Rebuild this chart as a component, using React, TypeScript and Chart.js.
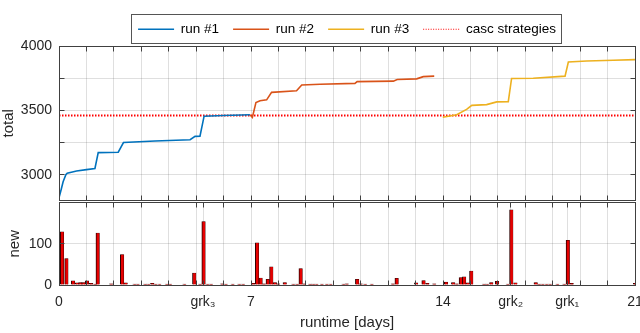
import React, { useEffect, useRef } from 'react';
import { Chart, registerables } from 'chart.js';

Chart.register(...registerables);

// ---------- data ----------
const run1Days = [0, 0.08, 0.15, 0.25, 0.3, 0.64, 1.0, 1.31, 1.43, 2.16, 2.35, 3.5, 4.78, 4.96, 5.14, 5.29, 6.0, 6.96];
const run1Totals = [2822, 2885, 2945, 3000, 3012, 3029, 3040, 3049, 3172, 3175, 3250, 3262, 3272, 3298, 3300, 3455, 3460, 3466];

const run2Days = [6.96, 7.05, 7.18, 7.33, 7.57, 7.75, 8.66, 8.85, 9.52, 10.79, 10.87, 12.19, 12.33, 13.04, 13.28, 13.68];
const run2Totals = [3466, 3445, 3560, 3575, 3582, 3640, 3653, 3697, 3703, 3710, 3723, 3727, 3740, 3745, 3762, 3766];

const run3Days = [13.99, 14.5, 14.86, 15.05, 15.59, 15.96, 16.38, 16.5, 17.29, 18.45, 18.57, 19.24, 20.21, 21.0];
const run3Totals = [3447, 3466, 3508, 3539, 3545, 3566, 3568, 3748, 3750, 3766, 3876, 3884, 3889, 3894];

const cascDays = [0, 21];
const cascTotals = [3460, 3460];

const newDays = [
  0.11, 0.27, 0.51, 0.66, 0.78, 0.89, 1.02, 1.17, 1.31, 1.41, 1.9, 2.3, 2.43, 2.75, 2.87, 3.14, 3.26, 3.4, 3.52, 3.66,
  3.93, 4.05, 4.57, 4.93, 5.14, 5.27, 5.41, 5.54, 5.95, 6.08, 6.33, 6.57, 6.71, 7.08, 7.22, 7.35, 7.47, 7.61, 7.74, 7.87,
  7.99, 8.23, 8.54, 8.68, 8.81, 8.94, 9.15, 9.27, 9.39, 9.58, 9.76, 9.9, 10.37, 10.49, 10.87, 11.0, 11.16, 11.4, 12.17, 12.31,
  13.02, 13.29, 13.43, 13.68, 14.11, 14.37, 14.5, 14.65, 14.77, 14.9, 15.03, 15.49, 15.61, 15.76, 15.97, 16.36, 16.49, 16.64, 17.38, 17.5,
  17.63, 17.77, 17.9, 18.17, 18.42, 18.55, 18.69, 21.0,
];
const newCounts = [
  129, 64, 10, 5, 6, 6, 10, 4, 2, 126, 3, 74, 5, 2, 2, 2, 2, 4, 2, 2,
  2, 2, 2, 29, 2, 154, 2, 2, 3, 2, 2, 2, 2, 4, 102, 17, 3, 14, 44, 6,
  3, 6, 2, 2, 40, 3, 2, 2, 2, 2, 2, 2, 2, 3, 14, 3, 2, 2, 3, 16,
  5, 11, 4, 3, 7, 6, 3, 18, 20, 5, 34, 2, 2, 6, 9, 2, 182, 5, 6, 2,
  2, 2, 2, 2, 2, 108, 4, 4,
];

// ---------- ticks ----------
const dayTicks = [0, 1, 2, 3, 4, 5, 6, 7, 8, 9, 10, 11, 12, 13, 14, 15, 16, 17, 18, 19, 20, 21];
const grkDays = [5.25, 16.47, 18.53];
const xLabelDays = [0, 5.25, 7, 14, 16.47, 18.53, 21];
const xLabelTexts = ['0', 'grk\u2083', '7', '14', 'grk\u2082', 'grk\u2081', '21'];
const totalTicks = [3000, 3250, 3500, 3750, 4000];
const totalLabelVals = [3000, 3500, 4000];
const newTicks = [0, 100, 200];
const newLabelVals = [0, 100];

const FONT = "'Liberation Sans', Arial, Helvetica, sans-serif";
const TXT = '#262626';
const GRID = 'rgba(38,38,38,0.15)';
const AXIS = '#404040';

const pts = (xs: number[], ys: number[]) => xs.map((x, i) => ({ x, y: ys[i] }));
const align = (p: number) => Math.round(p - 0.5) + 0.5;

const framePlugin = {
  id: 'frame',
  afterDraw(chart: any) {
    const { ctx, chartArea: a } = chart;
    const L = align(a.left), R = align(a.right), T = align(a.top), B = align(a.bottom);
    const len = 5;
    ctx.save();
    ctx.strokeStyle = AXIS;
    ctx.lineWidth = 1;
    ctx.beginPath();
    const xs = chart.scales.x;
    xs.ticks.forEach((t: any) => {
      const p = align(xs.getPixelForValue(t.value));
      ctx.moveTo(p, B); ctx.lineTo(p, B - len);
      ctx.moveTo(p, T); ctx.lineTo(p, T + len);
    });
    const ys = chart.scales.y;
    ys.ticks.forEach((t: any) => {
      const p = align(ys.getPixelForValue(t.value));
      ctx.moveTo(L, p); ctx.lineTo(L + len, p);
      ctx.moveTo(R, p); ctx.lineTo(R - len, p);
    });
    ctx.stroke();
    ctx.strokeRect(L, T, R - L, B - T);
    ctx.restore();
  },
};

const legendBoxPlugin = {
  id: 'legendBox',
  afterDraw(chart: any) {
    const lg = chart.legend;
    if (!lg || !lg.legendHitBoxes || !lg.legendHitBoxes.length) return;
    const hb = lg.legendHitBoxes;
    const left = Math.min(...hb.map((h: any) => h.left)) - 7;
    const right = Math.max(...hb.map((h: any) => h.left + h.width)) + 5;
    const cy = hb[0].top + hb[0].height / 2;
    const { ctx } = chart;
    ctx.save();
    ctx.strokeStyle = '#555555';
    ctx.lineWidth = 1;
    ctx.strokeRect(align(left), align(cy - 14.5), Math.round(right - left), 29);
    ctx.restore();
  },
};

export default function App() {
  const topRef = useRef<HTMLCanvasElement>(null);
  const botRef = useRef<HTMLCanvasElement>(null);

  useEffect(() => {
    document.body.style.margin = '0';
    Chart.defaults.font.family = FONT;
    Chart.defaults.color = TXT;

    const baseGen = (Chart.defaults as any).plugins.legend.labels.generateLabels;

    const top = new Chart(topRef.current as HTMLCanvasElement, {
      type: 'line',
      data: {
        datasets: [
          { label: 'run #1', data: pts(run1Days, run1Totals), borderColor: '#0072BD', backgroundColor: '#0072BD', borderWidth: 1.6, pointRadius: 0, tension: 0, fill: false },
          { label: 'run #2', data: pts(run2Days, run2Totals), borderColor: '#D95319', backgroundColor: '#D95319', borderWidth: 1.6, pointRadius: 0, tension: 0, fill: false },
          { label: 'run #3', data: pts(run3Days, run3Totals), borderColor: '#EDB120', backgroundColor: '#EDB120', borderWidth: 1.6, pointRadius: 0, tension: 0, fill: false },
          { label: 'casc strategies', data: pts(cascDays, cascTotals), borderColor: '#ff0000', backgroundColor: '#ff0000', borderWidth: 2, borderDash: [1.5, 1.5], pointRadius: 0, tension: 0, fill: false },
        ],
      },
      options: {
        animation: false,
        responsive: false,
        maintainAspectRatio: false,
        events: [],
        layout: { padding: { top: -5, left: 0, right: 0, bottom: 0 } },
        plugins: {
          legend: {
            position: 'top',
            fullSize: false,
            labels: {
              usePointStyle: true,
              pointStyle: 'line',
              pointStyleWidth: 36,
              padding: 14,
              color: '#000000',
              font: { size: 13.5, family: FONT },
              generateLabels: (chart: any) => {
                const items = baseGen(chart);
                items.forEach((it: any) => {
                  if (it.datasetIndex === 3) {
                    it.lineDash = [1, 1.5];
                    it.lineWidth = 1.2;
                  } else {
                    it.lineDash = [];
                    it.lineWidth = 1.3;
                  }
                });
                return items;
              },
            },
          },
          tooltip: { enabled: false },
        },
        scales: {
          x: {
            type: 'linear',
            min: 0,
            max: 21,
            afterBuildTicks: (s: any) => { s.ticks = dayTicks.map((v) => ({ value: v })); },
            ticks: { display: false },
            grid: { color: GRID, drawTicks: false },
            border: { display: false },
            afterFit: (s: any) => { s.height = 1.5; s.paddingLeft = 0; s.paddingRight = 5; },
          },
          y: {
            type: 'linear',
            min: 2800,
            max: 4000,
            afterBuildTicks: (s: any) => { s.ticks = totalTicks.map((v) => ({ value: v })); },
            ticks: {
              padding: 7,
              color: TXT,
              font: { size: 14, family: FONT },
              callback: (v: any) => (totalLabelVals.includes(Number(v)) ? String(v) : ''),
            },
            grid: { color: GRID, drawTicks: false },
            border: { display: false },
            title: { display: true, text: 'total', color: TXT, font: { size: 15, family: FONT }, padding: { top: 0, bottom: 0 } },
            afterFit: (s: any) => { s.width = 59; s.paddingTop = 46; s.paddingBottom = 0; },
          },
        },
      } as any,
      plugins: [framePlugin, legendBoxPlugin],
    });

    const bottomXTicks = [...dayTicks, ...grkDays].sort((a, b) => a - b);
    const bot = new Chart(botRef.current as HTMLCanvasElement, {
      type: 'bar',
      data: {
        datasets: [
          {
            label: 'new',
            data: pts(newDays, newCounts),
            backgroundColor: '#e60000',
            borderColor: '#2a0000',
            borderWidth: { left: 1, top: 0.5, right: 0.5, bottom: 0 },
            barThickness: 3.5,
          } as any,
        ],
      },
      options: {
        animation: false,
        responsive: false,
        maintainAspectRatio: false,
        events: [],
        layout: { padding: { top: 0, left: 6, right: 0, bottom: 0 } },
        plugins: { legend: { display: false }, tooltip: { enabled: false } },
        scales: {
          x: {
            type: 'linear',
            min: 0,
            max: 21,
            offset: false,
            afterBuildTicks: (s: any) => { s.ticks = bottomXTicks.map((v) => ({ value: v })); },
            ticks: {
              autoSkip: false,
              maxRotation: 0,
              minRotation: 0,
              padding: 9,
              color: TXT,
              font: { size: 14, family: FONT },
              callback: (v: any) => {
                const i = xLabelDays.findIndex((d) => Math.abs(d - Number(v)) < 1e-6);
                return i >= 0 ? xLabelTexts[i] : '';
              },
            },
            grid: { color: GRID, drawTicks: false, offset: false },
            border: { display: false },
            title: { display: true, text: 'runtime [days]', color: TXT, font: { size: 15, family: FONT }, padding: { top: 0, bottom: 1 } },
            afterFit: (s: any) => { s.height = 48; s.paddingLeft = 0; s.paddingRight = 5; },
          },
          y: {
            type: 'linear',
            min: 0,
            max: 200,
            afterBuildTicks: (s: any) => { s.ticks = newTicks.map((v) => ({ value: v })); },
            ticks: {
              padding: 7,
              color: TXT,
              font: { size: 14, family: FONT },
              callback: (v: any) => (newLabelVals.includes(Number(v)) ? String(v) : ''),
            },
            grid: { color: GRID, drawTicks: false },
            border: { display: false },
            title: { display: true, text: 'new', color: TXT, font: { size: 15, family: FONT }, padding: { top: 0, bottom: 0 } },
            afterFit: (s: any) => { s.width = 53; s.paddingTop = 0.5; s.paddingBottom = 0; },
          },
        },
      } as any,
      plugins: [framePlugin],
    });

    return () => {
      top.destroy();
      bot.destroy();
    };
  }, []);

  return (
    <div style={{ position: 'relative', width: 640, height: 333, background: '#ffffff', overflow: 'hidden' }}>
      <canvas ref={topRef} width={640} height={202} style={{ position: 'absolute', left: 0, top: 0, width: 640, height: 202 }} />
      <canvas ref={botRef} width={640} height={131} style={{ position: 'absolute', left: 0, top: 202, width: 640, height: 131 }} />
    </div>
  );
}
